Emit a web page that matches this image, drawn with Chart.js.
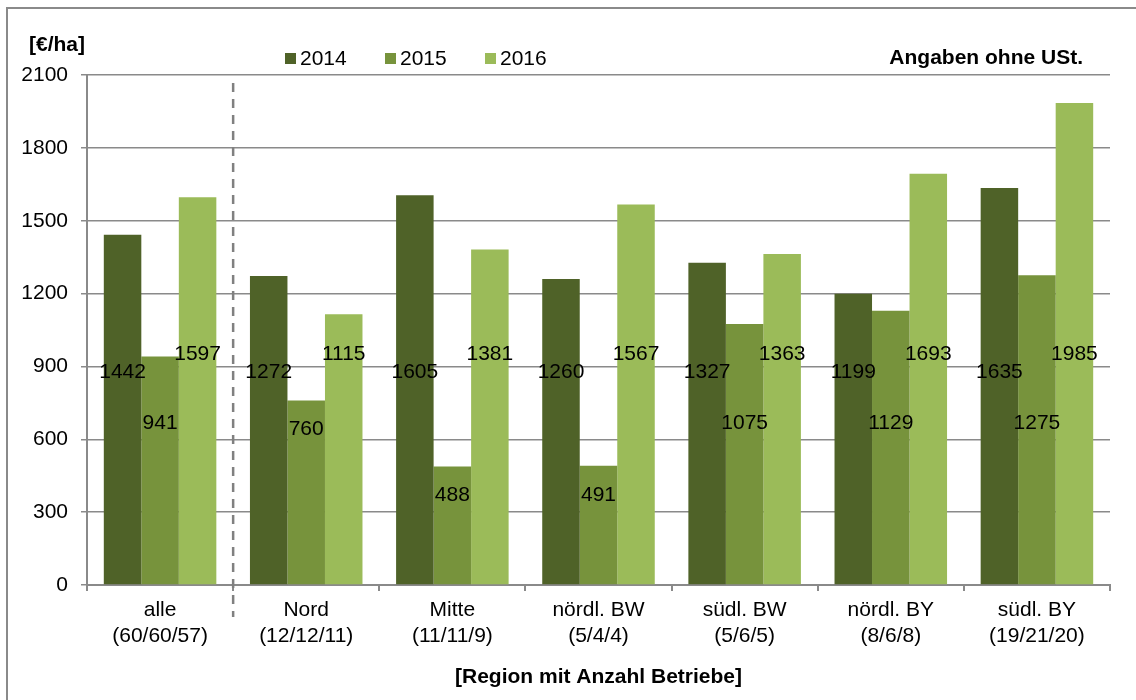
<!DOCTYPE html>
<html>
<head>
<meta charset="utf-8">
<script src="https://cdn.jsdelivr.net/npm/chart.js@4.4.1/dist/chart.umd.min.js"></script>
<style>
  body { margin: 0; background: #fff; }
  #wrap { position: relative; width: 1136px; height: 700px; }
</style>
</head>
<body>
<div id="wrap"><canvas id="regionChart" width="1136" height="700"></canvas></div>
<script>
// Werte je Region (Euro je ha, ohne USt.)
var regionen = [
    ["alle", "(60/60/57)"],
    ["Nord", "(12/12/11)"],
    ["Mitte", "(11/11/9)"],
    ["nördl. BW", "(5/4/4)"],
    ["südl. BW", "(5/6/5)"],
    ["nördl. BY", "(8/6/8)"],
    ["südl. BY", "(19/21/20)"]
];
var jahre = ["2014", "2015", "2016"];
var werte2014 = [1442, 1272, 1605, 1260, 1327, 1199, 1635];
var werte2015 = [941, 760, 488, 491, 1075, 1129, 1275];
var werte2016 = [1597, 1115, 1381, 1567, 1363, 1693, 1985];
var yTicks = [0, 300, 600, 900, 1200, 1500, 1800, 2100];

var farben = ['#4F6228', '#77933C', '#9BBB59'];
var grau = '#8a8a8a';
var schrift = "'Liberation Sans', Arial, sans-serif";

// Rahmen, Titel, Legende, Trennlinie und Datenbeschriftungen
var extras = {
    id: 'extras',
    beforeDraw: function(chart) {
        var ctx = chart.ctx;
        ctx.save();
        ctx.strokeStyle = grau;
        ctx.lineWidth = 2;
        ctx.beginPath();
        ctx.moveTo(7, 700);
        ctx.lineTo(7, 8);
        ctx.lineTo(1136, 8);
        ctx.stroke();
        ctx.restore();
    },
    afterDatasetsDraw: function(chart) {
        var ctx = chart.ctx;
        var area = chart.chartArea;
        var x = chart.scales.x;
        var y = chart.scales.y;
        ctx.save();

        // gestrichelte Linie zwischen "alle" und den Regionen
        var xs = (x.getPixelForValue(0) + x.getPixelForValue(1)) / 2;
        ctx.strokeStyle = '#808080';
        ctx.lineWidth = 2.5;
        ctx.setLineDash([9, 7]);
        ctx.beginPath();
        ctx.moveTo(xs, area.top + 8);
        ctx.lineTo(xs, area.bottom + 32);
        ctx.stroke();
        ctx.setLineDash([]);

        // Datenbeschriftungen
        var niveau = [875, 665, 950];
        ctx.fillStyle = '#000';
        ctx.font = '21px ' + schrift;
        ctx.textAlign = 'center';
        ctx.textBaseline = 'middle';
        chart.data.datasets.forEach(function(ds, i) {
            var meta = chart.getDatasetMeta(i);
            meta.data.forEach(function(bar, j) {
                var v = ds.data[j];
                var pos = Math.min(niveau[i], v - 120);
                ctx.fillText(String(v), bar.x, y.getPixelForValue(pos));
            });
        });

        // Texte oben
        ctx.font = 'bold 21px ' + schrift;
        ctx.textAlign = 'left';
        ctx.fillText('[€/ha]', 29, 45);
        ctx.textAlign = 'right';
        ctx.fillText('Angaben ohne USt.', 1083, 58);
        ctx.textAlign = 'center';
        ctx.fillText('[Region mit Anzahl Betriebe]', (area.left + area.right) / 2, 677);

        // Legende
        ctx.font = '21px ' + schrift;
        ctx.textAlign = 'left';
        chart.data.datasets.forEach(function(ds, i) {
            var lx = 285 + i * 100;
            ctx.fillStyle = ds.backgroundColor;
            ctx.fillRect(lx, 53, 11, 11);
            ctx.fillStyle = '#000';
            ctx.fillText(ds.label, lx + 15, 59);
        });
        ctx.restore();
    }
};

var ctx = document.getElementById('regionChart');
var chart = new Chart(ctx, {
    type: 'bar',
    data: {
        labels: regionen,
        datasets: [
            { label: jahre[0], data: werte2014, backgroundColor: farben[0] },
            { label: jahre[1], data: werte2015, backgroundColor: farben[1] },
            { label: jahre[2], data: werte2016, backgroundColor: farben[2] }
        ]
    },
    options: {
        responsive: false,
        animation: false,
        layout: { padding: { top: 75, right: 26, bottom: 0, left: 0 } },
        datasets: {
            bar: {
                barPercentage: 1,
                categoryPercentage: 0.77,
                borderWidth: 0
            }
        },
        plugins: {
            legend: { display: false },
            tooltip: { enabled: false }
        },
        scales: {
            x: {
                afterFit: function(scale) { scale.height = 115; },
                grid: {
                    offset: true,
                    drawOnChartArea: false,
                    drawTicks: true,
                    tickLength: 6,
                    color: grau,
                    lineWidth: 2
                },
                border: { display: true, color: grau, width: 2 },
                ticks: {
                    color: '#000',
                    font: { family: schrift, size: 21 },
                    padding: 7,
                    maxRotation: 0,
                    autoSkip: false
                }
            },
            y: {
                min: 0,
                max: 2100,
                afterFit: function(scale) { scale.width = 87; },
                afterBuildTicks: function(scale) {
                    scale.ticks = yTicks.map(function(v) { return { value: v }; });
                },
                grid: {
                    color: grau,
                    lineWidth: 1.5,
                    tickLength: 6
                },
                border: { display: true, color: grau, width: 2 },
                ticks: {
                    color: '#000',
                    font: { family: schrift, size: 21 },
                    padding: 13,
                    callback: function(v) { return String(v); }
                }
            }
        }
    },
    plugins: [extras]
});
</script>
</body>
</html>
